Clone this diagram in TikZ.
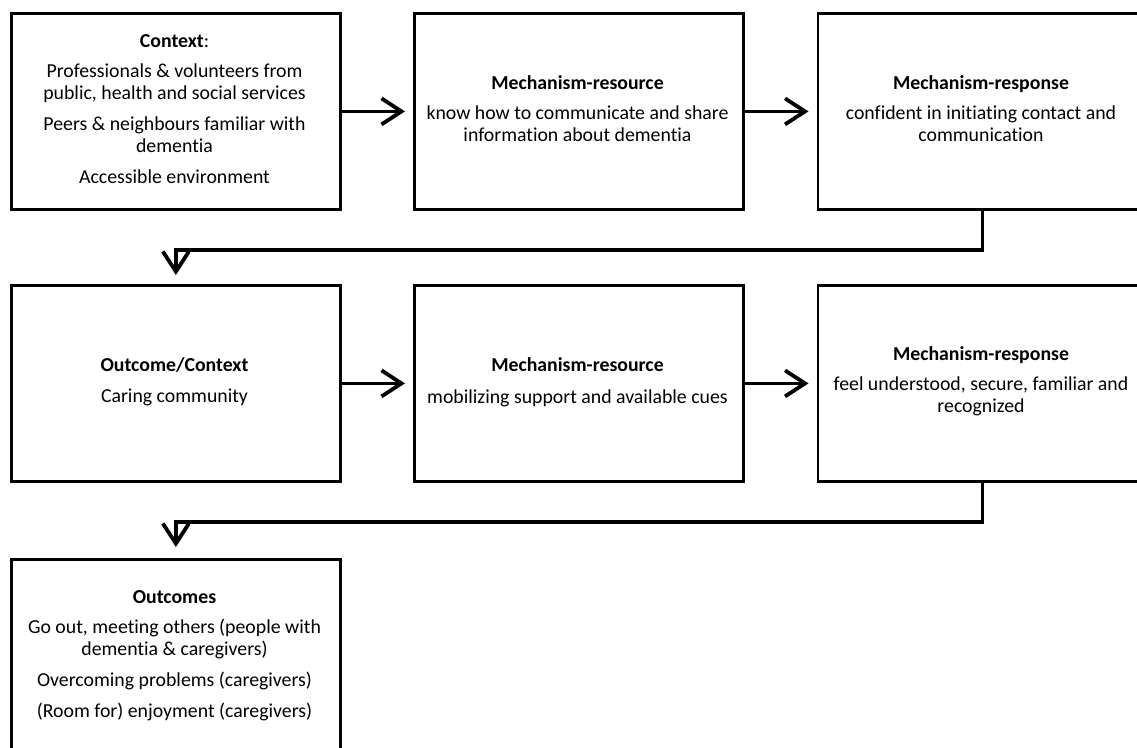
\documentclass[tikz,border=0pt]{standalone}
\usepackage{fontspec}
\setmainfont{Carlito}[Ligatures=NoCommon]
\usetikzlibrary{arrows.meta}
\begin{document}
\begin{tikzpicture}[x=1pt,y=-1pt,
  box/.style={draw, line width=2.8pt, minimum width=329pt, minimum height=196pt, inner sep=0pt, anchor=north west},
  txt/.style={align=center, font=\fontsize{19.8}{22}\selectfont, inner sep=0pt, anchor=base},
  conn/.style={line width=3.8pt, -{Straight Barb[length=20pt,width=26pt]}}]
\clip (0,0) rectangle (1137,747);
\fill[white] (0,0) rectangle (1137,747);
% boxes
\node[box] (b1) at (10,12) {};
\node[box] (b2) at (413,12) {};
\node[box] (b3) at (816.5,12) {};
\node[box] (b4) at (10,284) {};
\node[box] (b5) at (413,284) {};
\node[box] (b6) at (816.5,284) {};
\node[box, minimum height=230pt] (b7) at (10,558) {};
% texts (base anchor = baseline of the last line)
\node[txt] (t1) at (174.5,183.6) {\textbf{Context}:\\[8pt]
  Professionals \& volunteers from\\ public, health and social services\\[9pt]
  Peers \& neighbours familiar with\\ dementia\\[9pt]
  Accessible environment};
\node[txt] (t2) at (577.5,141.6) {\textbf{Mechanism-resource}\\[8pt]
  know how to communicate and share\\ information about dementia};
\node[txt] (t3) at (981,141.6) {\textbf{Mechanism-response}\\[8pt]
  confident in initiating contact and\\ communication};
\node[txt] (t4) at (174.5,402.6) {\textbf{Outcome/Context}\\[9pt]
  Caring community};
\node[txt] (t5) at (577.5,403.6) {\textbf{Mechanism-resource}\\[10pt]
  mobilizing support and available cues};
\node[txt] (t6) at (981,412.6) {\textbf{Mechanism-response}\\[8pt]
  feel understood, secure, familiar and\\ recognized};
\node[txt] (t7) at (174.5,717.6) {\textbf{Outcomes}\\[8pt]
  Go out, meeting others (people with\\ dementia \& caregivers)\\[9pt]
  Overcoming problems (caregivers)\\[9pt]
  (Room for) enjoyment (caregivers)};
% connectors
\draw[conn, shorten >=8pt] (b1) -- (b2);
\draw[conn, shorten >=8pt] (b2) -- (b3);
\draw[conn, shorten >=8pt] (b4) -- (b5);
\draw[conn, shorten >=8pt] (b5) -- (b6);
\draw[conn, shorten >=9pt] (b3.south) -- ++(0,39) -| (b4.north);
\draw[conn, shorten >=11pt] (b6.south) -- ++(0,39) -| (b7.north);
\end{tikzpicture}
\end{document}
